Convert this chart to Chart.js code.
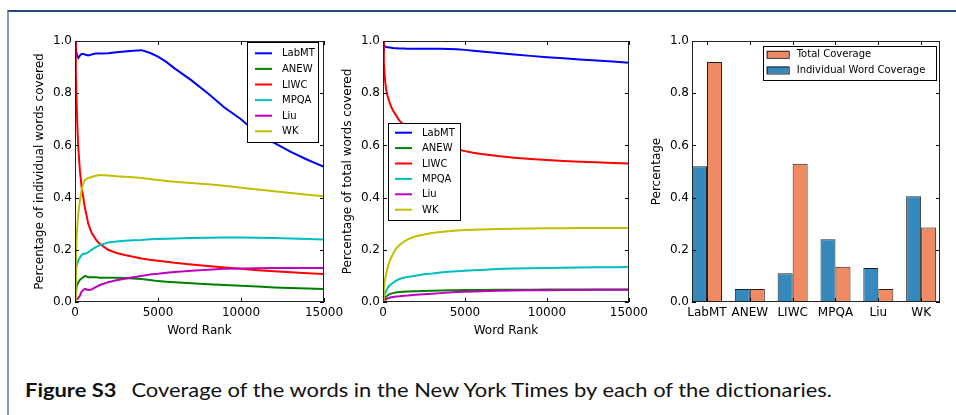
<!DOCTYPE html>
<html>
<head>
<meta charset="utf-8">
<script src="https://cdn.jsdelivr.net/npm/chart.js@4.4.1/dist/chart.umd.min.js"></script>
<style>
  html, body { margin: 0; padding: 0; background: #fff; }
  body { width: 956px; height: 415px; position: relative; overflow: hidden; font-family: "DejaVu Sans", sans-serif; }
  .frame { position: absolute; left: 7px; top: 10px; width: 949px; height: 405px; box-sizing: border-box;
           border-top: 2px solid #1f497d; border-left: 2px solid #8196b6; }
  .panel { position: absolute; top: 30px; height: 312px; }
  .panel canvas { display: block; }
  #caption { position: absolute; left: 25px; top: 378px; font-family: Lato, "DejaVu Sans", sans-serif;
             font-size: 19px; line-height: 24px; color: #111; white-space: nowrap; transform-origin: 0 50%; display: inline-block; }
  #caption .gap { display: inline-block; width: 13px; }
</style>
</head>
<body>
<div class="frame"></div>
<div class="panel" style="left:29px;width:319px"><canvas id="chartIndividual" width="319" height="312"></canvas></div>
<div class="panel" style="left:337px;width:315px"><canvas id="chartTotal" width="315" height="312"></canvas></div>
<div class="panel" style="left:646px;width:310px"><canvas id="chartBars" width="310" height="312"></canvas></div>
<div id="caption"><b>Figure S3</b><span class="gap"></span>Coverage of the words in the New York Times by each of the dictionaries.</div>

<script>
// ── data ───────────────────────────────────────────────────
const dictNames = ["LabMT", "ANEW", "LIWC", "MPQA", "Liu", "WK"];
const lineColors = ["#0000ff", "#008000", "#ff0000", "#00bfbf", "#bf00bf", "#bfbf00"];

const rankTicks = [0, 5000, 10000, 15000];
const coverTicks = [0, 0.2, 0.4, 0.6, 0.8, 1.0];

const wordRank = [1, 50, 100, 150, 200, 300, 400, 500, 600, 800, 1000, 1250, 1500, 2000, 2500, 3000,
  3500, 4000, 4500, 5000, 5500, 6000, 7000, 8000, 9000, 10000, 11000, 12000, 13000, 14000, 15000];

// percentage of individual words covered
const indivLabMT = [1.0, 0.97, 0.95, 0.94, 0.935, 0.945, 0.95, 0.95, 0.948, 0.945, 0.948, 0.952, 0.952, 0.953, 0.957, 0.96,
  0.963, 0.965, 0.955, 0.94, 0.92, 0.895, 0.85, 0.8, 0.745, 0.7, 0.645, 0.61, 0.575, 0.545, 0.518];
const indivANEW = [0.0, 0.03, 0.06, 0.07, 0.075, 0.085, 0.09, 0.095, 0.1, 0.095, 0.095, 0.095, 0.093, 0.093, 0.093, 0.092,
  0.09, 0.088, 0.084, 0.08, 0.078, 0.076, 0.072, 0.068, 0.065, 0.062, 0.059, 0.056, 0.054, 0.052, 0.05];
const indivLIWC = [1.0, 0.88, 0.76, 0.66, 0.59, 0.5, 0.44, 0.4, 0.36, 0.3, 0.265, 0.24, 0.222, 0.2, 0.188, 0.18,
  0.173, 0.167, 0.162, 0.158, 0.154, 0.15, 0.144, 0.138, 0.132, 0.127, 0.122, 0.118, 0.114, 0.11, 0.107];
const indivMPQA = [0.0, 0.12, 0.14, 0.15, 0.16, 0.17, 0.18, 0.185, 0.185, 0.19, 0.2, 0.21, 0.218, 0.228, 0.232, 0.235,
  0.237, 0.238, 0.24, 0.241, 0.242, 0.243, 0.245, 0.246, 0.247, 0.247, 0.246, 0.245, 0.243, 0.241, 0.239];
const indivLiu = [0.0, 0.01, 0.01, 0.012, 0.015, 0.025, 0.04, 0.046, 0.05, 0.046, 0.048, 0.057, 0.065, 0.076, 0.083, 0.089,
  0.095, 0.1, 0.105, 0.108, 0.112, 0.115, 0.12, 0.124, 0.127, 0.128, 0.129, 0.13, 0.13, 0.13, 0.13];
const indivWK = [0.0, 0.15, 0.25, 0.3, 0.34, 0.39, 0.43, 0.455, 0.467, 0.475, 0.479, 0.484, 0.487, 0.485, 0.482, 0.48,
  0.478, 0.475, 0.471, 0.467, 0.464, 0.461, 0.456, 0.451, 0.445, 0.438, 0.431, 0.424, 0.418, 0.411, 0.405];

// percentage of total words covered
const totalLabMT = [1.0, 0.985, 0.98, 0.978, 0.977, 0.976, 0.975, 0.974, 0.973, 0.972, 0.971, 0.971, 0.97, 0.97, 0.97, 0.97,
  0.97, 0.969, 0.968, 0.966, 0.963, 0.96, 0.954, 0.948, 0.943, 0.938, 0.934, 0.929, 0.925, 0.921, 0.917];
const totalANEW = [0.0, 0.008, 0.013, 0.018, 0.021, 0.026, 0.03, 0.032, 0.034, 0.036, 0.038, 0.039, 0.04, 0.041, 0.042, 0.043,
  0.044, 0.045, 0.045, 0.046, 0.046, 0.046, 0.047, 0.047, 0.047, 0.048, 0.048, 0.048, 0.048, 0.048, 0.048];
const totalLIWC = [1.0, 0.92, 0.87, 0.835, 0.81, 0.785, 0.765, 0.748, 0.735, 0.715, 0.695, 0.68, 0.665, 0.645, 0.628, 0.615,
  0.603, 0.593, 0.585, 0.578, 0.572, 0.567, 0.559, 0.553, 0.548, 0.544, 0.54, 0.537, 0.535, 0.533, 0.531];
const totalMPQA = [0.0, 0.02, 0.03, 0.037, 0.043, 0.055, 0.063, 0.068, 0.073, 0.082, 0.088, 0.093, 0.096, 0.101, 0.106, 0.109,
  0.113, 0.116, 0.118, 0.12, 0.122, 0.123, 0.126, 0.128, 0.129, 0.13, 0.131, 0.132, 0.133, 0.133, 0.134];
const totalLiu = [0.0, 0.004, 0.007, 0.009, 0.011, 0.014, 0.016, 0.018, 0.019, 0.021, 0.022, 0.024, 0.025, 0.028, 0.03, 0.032,
  0.034, 0.036, 0.038, 0.039, 0.04, 0.041, 0.043, 0.044, 0.045, 0.045, 0.046, 0.046, 0.047, 0.047, 0.047];
const totalWK = [0.0, 0.05, 0.075, 0.095, 0.11, 0.135, 0.155, 0.17, 0.183, 0.205, 0.218, 0.23, 0.24, 0.252, 0.259, 0.264,
  0.268, 0.271, 0.274, 0.276, 0.277, 0.278, 0.28, 0.281, 0.282, 0.283, 0.283, 0.284, 0.284, 0.284, 0.284];

// coverage at rank 15000, per dictionary
const individualCoverage = [0.52, 0.05, 0.11, 0.24, 0.13, 0.405];
const totalCoverage = [0.92, 0.05, 0.53, 0.135, 0.05, 0.285];

// ── shared bits ────────────────────────────────────────────
Chart.defaults.font.family = "'DejaVu Sans', sans-serif";
Chart.defaults.color = "#000";
Chart.defaults.animation = false;

// matplotlib-style frame with inward ticks on all four sides
const axesFrame = {
  id: "axesFrame",
  afterDatasetsDraw(chart) {
    const { ctx, chartArea: a, scales } = chart;
    const len = 4;
    ctx.save();
    ctx.strokeStyle = "#000";
    ctx.lineWidth = 1;
    ctx.beginPath();
    scales.x.ticks.forEach((t) => {
      const px = Math.round(scales.x.getPixelForValue(t.value)) + 0.5;
      ctx.moveTo(px, a.bottom); ctx.lineTo(px, a.bottom - len);
      ctx.moveTo(px, a.top); ctx.lineTo(px, a.top + len);
    });
    scales.y.ticks.forEach((t) => {
      const py = Math.round(scales.y.getPixelForValue(t.value)) + 0.5;
      ctx.moveTo(a.left, py); ctx.lineTo(a.left + len, py);
      ctx.moveTo(a.right, py); ctx.lineTo(a.right - len, py);
    });
    ctx.stroke();
    ctx.strokeStyle = "#222";
    ctx.strokeRect(Math.round(a.left) + 0.5, Math.round(a.top) + 0.5, Math.round(a.width) - 1, Math.round(a.height) - 1);
    ctx.restore();
  },
};

// boxed legend drawn inside the axes; box is placed relative to the chart area
function boxLegend(box) {
  return {
    id: "boxLegend",
    afterDraw(chart) {
      const { ctx, chartArea: a } = chart;
      const x0 = a.left + box.left, y0 = a.top + box.top;
      ctx.save();
      ctx.fillStyle = "#fff";
      ctx.fillRect(x0, y0, box.width, box.height);
      ctx.strokeStyle = "#000";
      ctx.lineWidth = 1;
      ctx.strokeRect(Math.round(x0) + 0.5, Math.round(y0) + 0.5, box.width, box.height);
      ctx.font = "10px 'DejaVu Sans'";
      ctx.textBaseline = "middle";
      box.order.forEach((di, k) => {
        const ds = chart.data.datasets[di];
        const cy = y0 + box.firstRow + k * box.rowStep;
        if (box.patch) {
          ctx.fillStyle = ds.backgroundColor;
          ctx.fillRect(x0 + 4, cy - 3.5, 22, 7);
          ctx.strokeStyle = "#222";
          ctx.strokeRect(x0 + 4.5, cy - 3, 22, 7);
        } else {
          ctx.strokeStyle = ds.borderColor;
          ctx.lineWidth = 2;
          ctx.beginPath();
          ctx.moveTo(x0 + box.lineFrom, cy);
          ctx.lineTo(x0 + box.lineFrom + 17, cy);
          ctx.stroke();
        }
        ctx.fillStyle = "#000";
        ctx.fillText(ds.label, x0 + box.textAt, cy + 0.5);
      });
      ctx.restore();
    },
  };
}

function coverageAxis(title) {
  return {
    type: "linear",
    min: 0,
    max: 1,
    afterBuildTicks: (s) => { s.ticks = coverTicks.map((v) => ({ value: v })); },
    afterFit: (s) => { s.width = 46; },
    grid: { display: false, drawTicks: false },
    border: { display: false },
    ticks: { padding: 3, font: { size: 12 }, callback: (v) => v.toFixed(1) },
    title: { display: true, text: title, font: { size: 12 }, padding: { top: 4, bottom: 4 } },
  };
}

function rankAxis() {
  return {
    type: "linear",
    min: 0,
    max: 15000,
    afterBuildTicks: (s) => { s.ticks = rankTicks.map((v) => ({ value: v })); },
    afterFit: (s) => { s.height = 40; },
    grid: { display: false, drawTicks: false },
    border: { display: false },
    ticks: { padding: 4, font: { size: 12 }, autoSkip: false, maxRotation: 0, callback: (v) => String(v) },
    title: { display: true, text: "Word Rank", font: { size: 12 }, padding: { top: 4, bottom: 4 } },
  };
}

function lineDatasets(series) {
  return series.map((vals, i) => ({
    label: dictNames[i],
    data: wordRank.map((r, j) => ({ x: r, y: vals[j] })),
    borderColor: lineColors[i],
    backgroundColor: lineColors[i],
    borderWidth: 2,
    pointRadius: 0,
    tension: 0,
    order: series.length - i,
  }));
}

function lineChart(id, series, yTitle, padRight, legendBox) {
  new Chart(document.getElementById(id), {
    type: "line",
    data: { datasets: lineDatasets(series) },
    options: {
      responsive: false,
      devicePixelRatio: 1,
      layout: { padding: { left: 0, top: 11, right: padRight, bottom: 0 } },
      plugins: { legend: { display: false }, tooltip: { enabled: false } },
      scales: { x: rankAxis(), y: coverageAxis(yTitle) },
    },
    plugins: [axesFrame, boxLegend(legendBox)],
  });
}

// ── individual words covered ───────────────────────────────
lineChart("chartIndividual",
  [indivLabMT, indivANEW, indivLIWC, indivMPQA, indivLiu, indivWK],
  "Percentage of individual words covered", 24,
  { left: 172, top: 1, width: 71, height: 100, firstRow: 11.3, rowStep: 15.6, lineFrom: 8, textAt: 35, order: [0, 1, 2, 3, 4, 5] });

// ── total words covered ────────────────────────────────────
lineChart("chartTotal",
  [totalLabMT, totalANEW, totalLIWC, totalMPQA, totalLiu, totalWK],
  "Percentage of total words covered", 20,
  { left: 5, top: 82, width: 72, height: 97, firstRow: 9.7, rowStep: 15.4, lineFrom: 7, textAt: 34, order: [0, 1, 2, 3, 4, 5] });

// ── coverage bars ──────────────────────────────────────────
new Chart(document.getElementById("chartBars"), {
  type: "bar",
  data: {
    datasets: [
      {
        label: "Individual Word Coverage",
        data: individualCoverage.map((v, i) => ({ x: i, y: v })),
        backgroundColor: "#348abd",
        borderColor: "#222",
        borderWidth: 1,
      },
      {
        label: "Total Coverage",
        data: totalCoverage.map((v, i) => ({ x: i, y: v })),
        backgroundColor: "#ef8a62",
        borderColor: "#222",
        borderWidth: 1,
      },
    ],
  },
  options: {
    responsive: false,
    devicePixelRatio: 1,
    layout: { padding: { left: 0, top: 11, right: 16, bottom: 0 } },
    datasets: { bar: { categoryPercentage: 0.7, barPercentage: 1 } },
    plugins: { legend: { display: false }, tooltip: { enabled: false } },
    scales: {
      x: {
        type: "linear",
        offset: false,
        min: -0.35,
        max: 5.44,
        afterBuildTicks: (s) => { s.ticks = dictNames.map((n, i) => ({ value: i })); },
        afterFit: (s) => { s.height = 40; },
        grid: { display: false, drawTicks: false },
        border: { display: false },
        ticks: { padding: 4, font: { size: 12 }, autoSkip: false, maxRotation: 0, callback: (v) => dictNames[v] },
      },
      y: coverageAxis("Percentage"),
    },
  },
  plugins: [axesFrame, boxLegend({ left: 70.7, top: 5, width: 173, height: 34, firstRow: 8.3, rowStep: 15.7, textAt: 34, patch: true, order: [1, 0] })],
});

// caption: stretch to the reference width
const cap = document.getElementById("caption");
cap.style.transform = "scaleX(" + (807 / cap.offsetWidth) + ")";
</script>
</body>
</html>
